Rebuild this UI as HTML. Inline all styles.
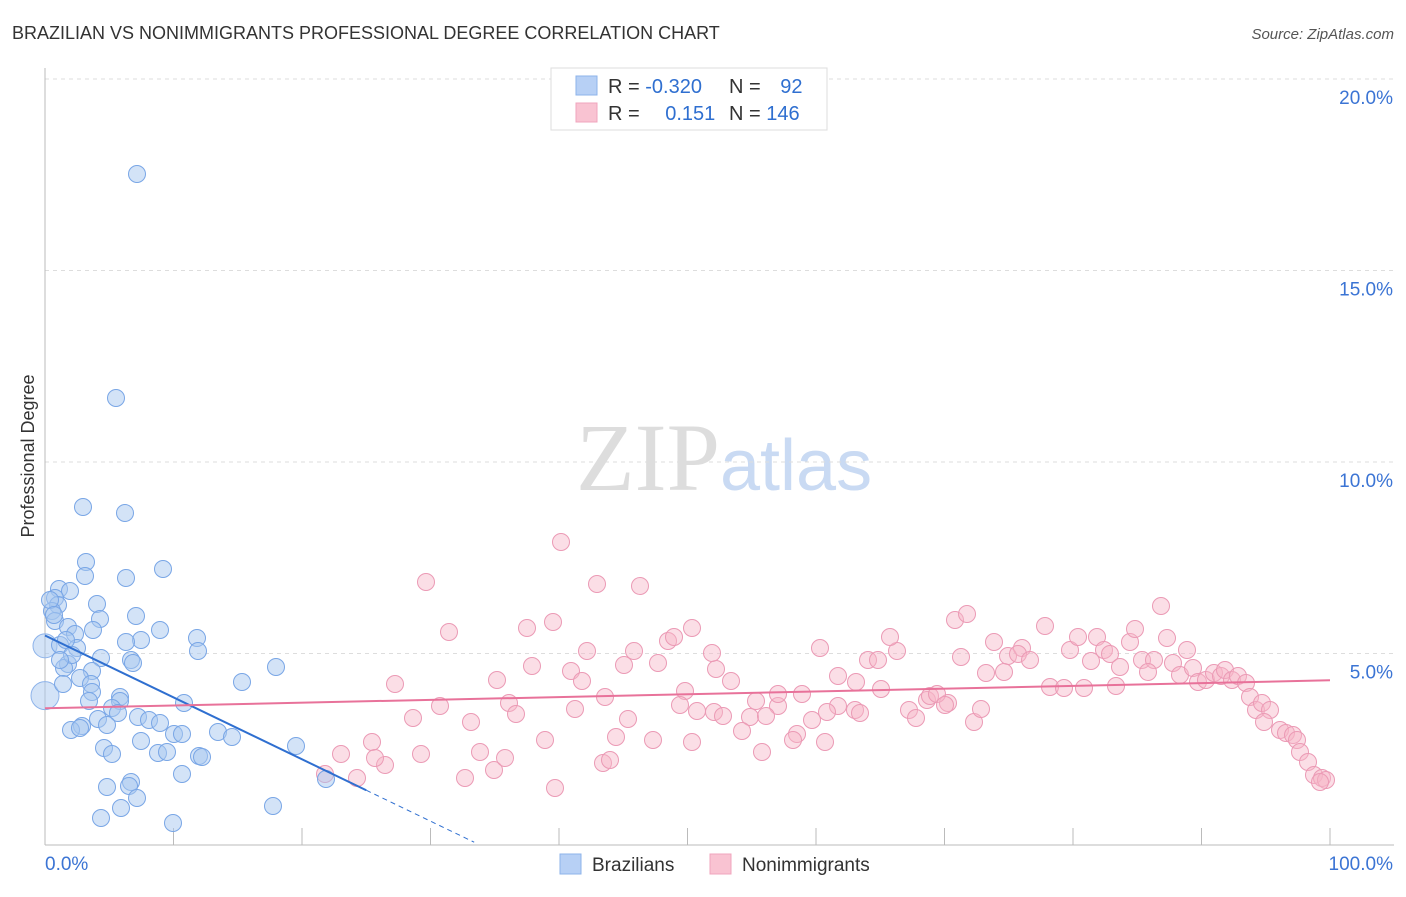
<!DOCTYPE html>
<html><head><meta charset="utf-8"><style>
body{margin:0;background:#fff;font-family:"Liberation Sans",sans-serif;}
svg text{font-family:"Liberation Sans",sans-serif;}
</style></head><body>
<svg id="chart" width="1406" height="892">
<text x="12" y="39" font-size="18" fill="#333">BRAZILIAN VS NONIMMIGRANTS PROFESSIONAL DEGREE CORRELATION CHART</text>
<text x="1394" y="39" font-size="15" fill="#555" font-style="italic" text-anchor="end">Source: ZipAtlas.com</text>
<text x="34" y="456" font-size="18" fill="#333" text-anchor="middle" transform="rotate(-90 34 456)">Professional Degree</text>
<text x="720" y="490" font-size="96" fill="#ddd" text-anchor="end" font-family="Liberation Serif" style="font-family:'Liberation Serif',serif">ZIP</text>
<text x="720" y="490" font-size="72" fill="#c9daf3">atlas</text>
<g id="grid"></g><g id="pts"></g><g id="lines"></g>
<g>
<rect x="551" y="68" width="276" height="62" fill="#fff" stroke="#ddd"/>
<rect x="576" y="76" width="21" height="19" fill="#b7d0f5" stroke="#8db3ea"/>
<rect x="576" y="103" width="21" height="19" fill="#f9c3d2" stroke="#f0a5bd"/>
<text x="608" y="93" font-size="20" fill="#333">R = <tspan fill="#2f6fd0">-0.320</tspan></text>
<text x="729" y="93" font-size="20" fill="#333">N = <tspan fill="#2f6fd0" dx="14">92</tspan></text>
<text x="608" y="120" font-size="20" fill="#333">R = <tspan fill="#2f6fd0" dx="20">0.151</tspan></text>
<text x="729" y="120" font-size="20" fill="#333">N = <tspan fill="#2f6fd0">146</tspan></text>
</g>
<g>
<rect x="560" y="854" width="21" height="20" fill="#b7d0f5" stroke="#8db3ea"/>
<text x="592" y="871" font-size="19" fill="#333">Brazilians</text>
<rect x="710" y="854" width="21" height="20" fill="#f9c3d2" stroke="#f0a5bd"/>
<text x="742" y="871" font-size="19" fill="#333">Nonimmigrants</text>
</g>
</svg>
<script>
const yTicks=[5,10,15,20];
const xTickLabels=["0.0%","100.0%"];
const bluePx=[[137,174],[116,398],[83,507],[125,513],[86,562],[163,569],[85,576],[126,578],[59,589],[70,591],[55,598],[58,605],[97,604],[52,611],[136,616],[100,619],[55,621],[68,627],[93,630],[160,630],[75,634],[197,638],[141,640],[126,642],[60,645],[77,648],[198,651],[101,658],[131,660],[133,663],[68,664],[64,668],[276,667],[92,671],[80,678],[63,684],[91,684],[242,682],[92,692],[120,697],[184,703],[89,701],[120,701],[112,708],[118,713],[138,717],[149,720],[98,719],[160,723],[107,725],[82,726],[71,730],[80,728],[174,734],[182,734],[218,732],[232,737],[141,741],[104,748],[296,746],[112,754],[158,753],[167,752],[199,756],[202,757],[182,774],[131,782],[129,786],[107,787],[326,779],[137,798],[121,808],[273,806],[101,818],[173,823],[50,600],[54,615],[66,640],[72,655],[60,660]];
const pinkPx=[[426,582],[561,542],[597,584],[640,586],[449,632],[527,628],[553,622],[692,628],[668,641],[674,637],[634,651],[587,651],[532,666],[571,671],[497,680],[582,681],[624,665],[658,663],[605,697],[395,684],[440,706],[413,718],[471,722],[509,703],[516,714],[575,709],[628,719],[685,691],[697,711],[714,712],[680,705],[723,716],[750,717],[756,701],[716,669],[712,653],[731,681],[778,706],[766,716],[802,694],[820,648],[838,706],[812,720],[797,734],[778,694],[868,660],[855,710],[878,660],[897,651],[890,637],[838,676],[881,689],[856,682],[909,710],[916,718],[927,700],[930,696],[948,703],[955,620],[967,614],[961,657],[937,694],[945,705],[974,722],[981,709],[986,673],[994,642],[1008,656],[1004,672],[1022,648],[1018,654],[1030,660],[1045,626],[1050,687],[1064,688],[1070,650],[1078,637],[1084,688],[1091,661],[1097,637],[1104,650],[1110,654],[1116,686],[1120,667],[1130,642],[1135,629],[1142,660],[1154,660],[1148,672],[1161,606],[1167,638],[1173,663],[1180,675],[1187,650],[1193,668],[1198,682],[1206,680],[1214,673],[1221,676],[1225,670],[1232,680],[1238,676],[1246,683],[1250,697],[1256,710],[1262,703],[1270,710],[1264,722],[1280,730],[1286,733],[1293,735],[1297,740],[1300,752],[1308,762],[1314,775],[1322,778],[1326,780],[1320,782],[555,788],[494,770],[465,778],[357,778],[325,774],[341,754],[372,742],[385,765],[375,758],[421,754],[480,752],[505,758],[545,740],[603,763],[610,760],[653,740],[616,737],[692,742],[742,731],[762,752],[793,740],[825,742],[860,713],[827,712]];
const blueX=bluePx.map(p=>(p[0]-45)/12.85), blueY=bluePx.map(p=>(845-p[1])/38.3);
const pinkX=pinkPx.map(p=>(p[0]-45)/12.85), pinkY=pinkPx.map(p=>(845-p[1])/38.3);
const blueTrend=[5.47,1.43], pinkTrend=[3.57,4.3];
const X=v=>45+v*12.85, Y=v=>845-v*38.3;
const NS="http://www.w3.org/2000/svg";
const mk=(t,a,p)=>{const e=document.createElementNS(NS,t);for(const k in a)e.setAttribute(k,a[k]);p.appendChild(e);return e;};
const g=document.getElementById('grid');
yTicks.forEach(t=>{
 const l=mk('line',{x1:45,x2:1394,y1:Y(t),y2:Y(t),stroke:'#ddd','stroke-dasharray':'4 4'},g);
 
 
 const tx=mk('text',{x:1393,y:Y(t)+25,'font-size':19,fill:'#3b74d4','text-anchor':'end'},g);tx.textContent=t.toFixed(1)+'%';
 
 
});
const ax=mk('line',{x1:45,x2:1394,y1:845,y2:845,stroke:'#bbb'},g);


const ay=mk('line',{x1:45,x2:45,y1:68,y2:845,stroke:'#bbb'},g);


for(let i=0;i<=10;i++){const t=mk('line',{x1:X(i*10),x2:X(i*10),y1:828,y2:845,stroke:'#bbb'},g);
 
 }
const l0=mk('text',{x:45,y:870,'font-size':19,fill:'#3b74d4'},g);l0.textContent=xTickLabels[0];


const l1=mk('text',{x:1393,y:870,'font-size':19,fill:'#3b74d4','text-anchor':'end'},g);l1.textContent=xTickLabels[1];


const pg=document.getElementById('pts');
const big1=mk('circle',{cx:X(0),cy:Y(3.9),r:14,fill:'rgba(168,200,240,0.5)',stroke:'#8db3ea'},pg);


const big2=mk('circle',{cx:X(0),cy:Y(5.2),r:12,fill:'rgba(168,200,240,0.5)',stroke:'#8db3ea'},pg);


pinkX.forEach((v,i)=>{const c=mk('circle',{cx:X(v),cy:Y(pinkY[i]),r:8.5,fill:'rgba(247,181,200,0.45)',stroke:'#eb9ab5','stroke-width':1},pg);
 
 });
blueX.forEach((v,i)=>{const c=mk('circle',{cx:X(v),cy:Y(blueY[i]),r:8.5,fill:'rgba(168,200,240,0.5)',stroke:'#79a6e6','stroke-width':1},pg);
 
 });
const lg=document.getElementById('lines');
const bl=mk('line',{x1:X(0),y1:Y(blueTrend[0]),x2:X(25),y2:Y(blueTrend[1]),stroke:'#2f6fd0','stroke-width':2},lg);


const slope=(blueTrend[1]-blueTrend[0])/25;
const bd=mk('line',{x1:X(25),y1:Y(blueTrend[1]),x2:X(33.4),y2:Y(blueTrend[0]+slope*33.4),stroke:'#2f6fd0','stroke-width':1,'stroke-dasharray':'5 4'},lg);


const pl=mk('line',{x1:X(0),y1:Y(pinkTrend[0]),x2:X(100),y2:Y(pinkTrend[1]),stroke:'#e8729a','stroke-width':2},lg);


</script>
</body></html>
